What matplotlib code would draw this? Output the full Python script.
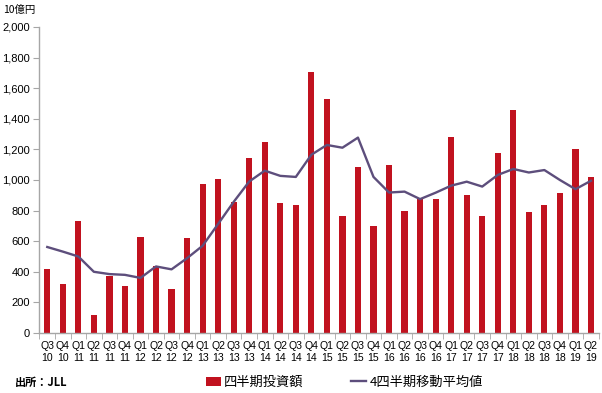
import numpy as np
import matplotlib.pyplot as plt

plt.rcParams['font.family'] = ['Liberation Sans', 'Noto Sans CJK JP', 'DejaVu Sans']

# 四半期ラベル（Q3 2010 〜 Q2 2019）
quarters = ["Q3", "Q4"] + ["Q1", "Q2", "Q3", "Q4"] * 8 + ["Q1", "Q2"]
years = ["10", "10"] + [f"{y:02d}" for y in range(11, 19) for _ in range(4)] + ["19", "19"]
tick_labels = [f"{q}\n{y}" for q, y in zip(quarters, years)]

# 四半期投資額（10億円）
investment = [420, 320, 735, 115, 370, 305, 630, 435, 285, 620,
              975, 1005, 855, 1145, 1250, 850, 838, 1708,
              1532, 767, 1088, 700, 1098, 800, 875, 877,
              1284, 903, 762, 1174, 1455, 788, 838, 913,
              1203, 1018]

# 4四半期移動平均値
moving_avg = [562, 532, 500, 400, 385, 380, 360, 435, 416, 489,
              570, 713, 857, 990, 1061, 1027, 1020, 1165,
              1229, 1211, 1277, 1020, 918, 924, 875, 917,
              963, 989, 957, 1033, 1072, 1049, 1065, 1000,
              940, 995]

bar_color = "#C1121F"
line_color = "#5D4E7C"
axis_color = "#A6A6A6"

x = np.arange(len(investment))

fig = plt.figure(figsize=(6.02, 3.93), dpi=100)
ax = fig.add_axes([0.0656, 0.1527, 0.929, 0.7786])

bars = ax.bar(x, investment, width=0.4, color=bar_color, label="四半期投資額")
line, = ax.plot(x, moving_avg, color=line_color, lw=1.7, label="4四半期移動平均値")

ax.set_xlim(-0.5, len(x) - 0.5)
ax.set_ylim(0, 2000)
ax.set_yticks(range(0, 2001, 200))
ax.set_yticklabels([f"{v:,}" for v in range(0, 2001, 200)], fontsize=8)

ax.set_xticks(x)
ax.set_xticklabels(tick_labels, fontsize=7.6, linespacing=1.15,
                   family=['Liberation Sans Narrow', 'Liberation Sans'])
ax.set_xticks(np.arange(-0.5, len(x)), minor=True)
ax.tick_params(axis="x", which="major", length=0, pad=6)
ax.tick_params(axis="x", which="minor", length=4, color=axis_color)
ax.tick_params(axis="y", length=4, color=axis_color, pad=3)

for side in ["top", "right"]:
    ax.spines[side].set_visible(False)
for side in ["left", "bottom"]:
    ax.spines[side].set_color(axis_color)
    ax.spines[side].set_linewidth(1)

fig.text(0.005, 0.975, "10億円", fontsize=7.5, ha="left", va="center",
         family=['Noto Sans CJK JP', 'DejaVu Sans'])
fig.text(0.025, 0.028, "出所：JLL", fontsize=8, fontweight="bold", ha="left", va="center",
         family=['Noto Sans CJK JP', 'DejaVu Sans'])

fig.legend(handles=[bars, line], loc="center", bbox_to_anchor=(0.572, 0.027),
           ncol=2, frameon=False, handlelength=1.15,
           handleheight=0.7, handletextpad=0.25, columnspacing=3.6,
           prop={'family': ['Noto Sans CJK JP', 'DejaVu Sans'], 'size': 9.5})

fig.savefig("out.png", dpi=100)
